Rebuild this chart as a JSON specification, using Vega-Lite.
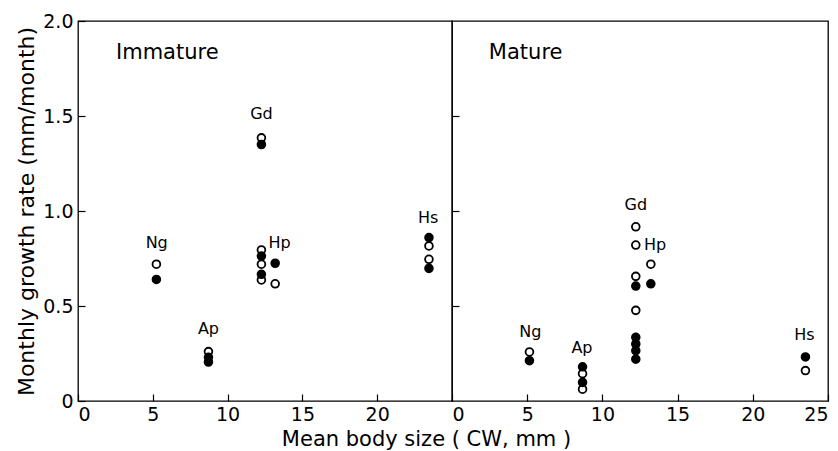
{
  "$schema": "https://vega.github.io/schema/vega-lite/v6.json",
  "background": "white",
  "padding": {"left": 15, "top": 11, "right": 5, "bottom": 5},
  "bounds": "flush",
  "spacing": 0,
  "config": {
    "view": {"stroke": "#000", "strokeWidth": 1.3},
    "font": "DejaVu Sans",
    "axis": {
      "domain": false,
      "grid": false,
      "tickColor": "#000",
      "tickWidth": 1.2,
      "labelColor": "#000",
      "titleColor": "#000",
      "labelFont": "DejaVu Sans",
      "titleFont": "DejaVu Sans",
      "labelFontSize": 19,
      "titleFontSize": 21,
      "titleFontWeight": "normal"
    }
  },
  "datasets": {
    "points": [
      {"stage": "Immature", "species": "Ng", "size": 5.24, "rate": 0.72, "type": "open"},
      {"stage": "Immature", "species": "Ng", "size": 5.24, "rate": 0.64, "type": "filled"},
      {"stage": "Immature", "species": "Ap", "size": 8.72, "rate": 0.26, "type": "open"},
      {"stage": "Immature", "species": "Ap", "size": 8.72, "rate": 0.23, "type": "filled"},
      {"stage": "Immature", "species": "Ap", "size": 8.72, "rate": 0.205, "type": "filled"},
      {"stage": "Immature", "species": "Gd", "size": 12.26, "rate": 1.385, "type": "open"},
      {"stage": "Immature", "species": "Gd", "size": 12.26, "rate": 1.35, "type": "filled"},
      {"stage": "Immature", "species": "Gd", "size": 12.26, "rate": 0.795, "type": "open"},
      {"stage": "Immature", "species": "Gd", "size": 12.26, "rate": 0.763, "type": "filled"},
      {"stage": "Immature", "species": "Gd", "size": 12.26, "rate": 0.72, "type": "open"},
      {"stage": "Immature", "species": "Gd", "size": 12.26, "rate": 0.637, "type": "open"},
      {"stage": "Immature", "species": "Gd", "size": 12.26, "rate": 0.667, "type": "filled"},
      {"stage": "Immature", "species": "Hp", "size": 13.18, "rate": 0.725, "type": "filled"},
      {"stage": "Immature", "species": "Hp", "size": 13.18, "rate": 0.617, "type": "open"},
      {"stage": "Immature", "species": "Hs", "size": 23.46, "rate": 0.816, "type": "open"},
      {"stage": "Immature", "species": "Hs", "size": 23.46, "rate": 0.86, "type": "filled"},
      {"stage": "Immature", "species": "Hs", "size": 23.46, "rate": 0.746, "type": "open"},
      {"stage": "Immature", "species": "Hs", "size": 23.46, "rate": 0.698, "type": "filled"},
      {"stage": "Mature", "species": "Ng", "size": 5.15, "rate": 0.258, "type": "open"},
      {"stage": "Mature", "species": "Ng", "size": 5.15, "rate": 0.212, "type": "filled"},
      {"stage": "Mature", "species": "Ap", "size": 8.68, "rate": 0.062, "type": "open"},
      {"stage": "Mature", "species": "Ap", "size": 8.68, "rate": 0.098, "type": "filled"},
      {"stage": "Mature", "species": "Ap", "size": 8.68, "rate": 0.144, "type": "open"},
      {"stage": "Mature", "species": "Ap", "size": 8.68, "rate": 0.18, "type": "filled"},
      {"stage": "Mature", "species": "Gd", "size": 12.22, "rate": 0.917, "type": "open"},
      {"stage": "Mature", "species": "Gd", "size": 12.22, "rate": 0.821, "type": "open"},
      {"stage": "Mature", "species": "Gd", "size": 12.22, "rate": 0.656, "type": "open"},
      {"stage": "Mature", "species": "Gd", "size": 12.22, "rate": 0.605, "type": "filled"},
      {"stage": "Mature", "species": "Gd", "size": 12.22, "rate": 0.477, "type": "open"},
      {"stage": "Mature", "species": "Gd", "size": 12.22, "rate": 0.335, "type": "filled"},
      {"stage": "Mature", "species": "Gd", "size": 12.22, "rate": 0.3, "type": "filled"},
      {"stage": "Mature", "species": "Gd", "size": 12.22, "rate": 0.265, "type": "filled"},
      {"stage": "Mature", "species": "Gd", "size": 12.22, "rate": 0.22, "type": "filled"},
      {"stage": "Mature", "species": "Hp", "size": 13.22, "rate": 0.72, "type": "open"},
      {"stage": "Mature", "species": "Hp", "size": 13.22, "rate": 0.617, "type": "filled"},
      {"stage": "Mature", "species": "Hs", "size": 23.5, "rate": 0.232, "type": "filled"},
      {"stage": "Mature", "species": "Hs", "size": 23.5, "rate": 0.16, "type": "open"}
    ],
    "labels": [
      {"stage": "Immature", "text": "Gd", "size": 12.26, "rate": 1.509},
      {"stage": "Immature", "text": "Ng", "size": 5.26, "rate": 0.83},
      {"stage": "Immature", "text": "Hp", "size": 13.47, "rate": 0.83},
      {"stage": "Immature", "text": "Ap", "size": 8.72, "rate": 0.377},
      {"stage": "Immature", "text": "Hs", "size": 23.41, "rate": 0.965},
      {"stage": "Mature", "text": "Gd", "size": 12.22, "rate": 1.032},
      {"stage": "Mature", "text": "Hp", "size": 13.5, "rate": 0.821},
      {"stage": "Mature", "text": "Ng", "size": 5.21, "rate": 0.365},
      {"stage": "Mature", "text": "Ap", "size": 8.64, "rate": 0.28},
      {"stage": "Mature", "text": "Hs", "size": 23.43, "rate": 0.347}
    ],
    "panels": [
      {"stage": "Immature", "size": 2.54, "rate": 1.833},
      {"stage": "Mature", "size": 2.45, "rate": 1.833}
    ]
  },
  "hconcat": [
    {
      "width": 374,
      "height": 380,
      "layer": [
        {
          "data": {"name": "points"},
          "transform": [{"filter": "datum.stage === 'Immature'"}],
          "mark": {"type": "point", "shape": "circle", "filled": true, "size": 60, "stroke": "#000", "strokeWidth": 1.8, "opacity": 1},
          "encoding": {
            "x": {"field": "size", "type": "quantitative", "scale": {"domain": [0, 25], "nice": false, "zero": false},
              "axis": {"values": [0, 5, 10, 15, 20], "tickSize": -7, "labelPadding": 11, "title": "Mean body size  ( CW, mm )", "titleX": 348, "titleY": 38, "titleBaseline": "middle", "titleAlign": "center", "titleAnchor": null}},
            "y": {"field": "rate", "type": "quantitative", "scale": {"domain": [0, 2], "nice": false},
              "axis": {"values": [0, 0.5, 1, 1.5, 2], "tickSize": -7, "labelPadding": 12, "labelExpr": "datum.value === 0 ? '0' : format(datum.value, '.1f')", "title": "Monthly growth rate (mm/month)", "titleFontSize": 22, "titlePadding": 4}},
            "fill": {"field": "type", "type": "nominal", "scale": {"domain": ["open", "filled"], "range": ["#fff", "#000"]}, "legend": null}
          }
        },
        {
          "data": {"name": "labels"},
          "transform": [{"filter": "datum.stage === 'Immature'"}],
          "mark": {"type": "text", "fontSize": 16, "align": "center", "baseline": "middle", "color": "#000"},
          "encoding": {
            "x": {"field": "size", "type": "quantitative"},
            "y": {"field": "rate", "type": "quantitative"},
            "text": {"field": "text"}
          }
        },
        {
          "data": {"name": "panels"},
          "transform": [{"filter": "datum.stage === 'Immature'"}],
          "mark": {"type": "text", "fontSize": 21, "align": "left", "baseline": "middle", "color": "#000"},
          "encoding": {
            "x": {"field": "size", "type": "quantitative"},
            "y": {"field": "rate", "type": "quantitative"},
            "text": {"field": "stage"}
          }
        }
      ]
    },
    {
      "width": 376,
      "height": 380,
      "layer": [
        {
          "data": {"name": "points"},
          "transform": [{"filter": "datum.stage === 'Mature'"}],
          "mark": {"type": "point", "shape": "circle", "filled": true, "size": 60, "stroke": "#000", "strokeWidth": 1.8, "opacity": 1},
          "encoding": {
            "x": {"field": "size", "type": "quantitative", "scale": {"domain": [0, 25], "nice": false, "zero": false},
              "axis": {"values": [0, 5, 10, 15, 20, 25], "tickSize": -7, "labelPadding": 11, "title": null}},
            "y": {"field": "rate", "type": "quantitative", "scale": {"domain": [0, 2], "nice": false},
              "axis": {"values": [0.5, 1, 1.5], "tickSize": -7, "labels": false, "title": null}},
            "fill": {"field": "type", "type": "nominal", "scale": {"domain": ["open", "filled"], "range": ["#fff", "#000"]}, "legend": null}
          }
        },
        {
          "data": {"name": "labels"},
          "transform": [{"filter": "datum.stage === 'Mature'"}],
          "mark": {"type": "text", "fontSize": 16, "align": "center", "baseline": "middle", "color": "#000"},
          "encoding": {
            "x": {"field": "size", "type": "quantitative"},
            "y": {"field": "rate", "type": "quantitative"},
            "text": {"field": "text"}
          }
        },
        {
          "data": {"name": "panels"},
          "transform": [{"filter": "datum.stage === 'Mature'"}],
          "mark": {"type": "text", "fontSize": 21, "align": "left", "baseline": "middle", "color": "#000"},
          "encoding": {
            "x": {"field": "size", "type": "quantitative"},
            "y": {"field": "rate", "type": "quantitative"},
            "text": {"field": "stage"}
          }
        }
      ]
    }
  ]
}
